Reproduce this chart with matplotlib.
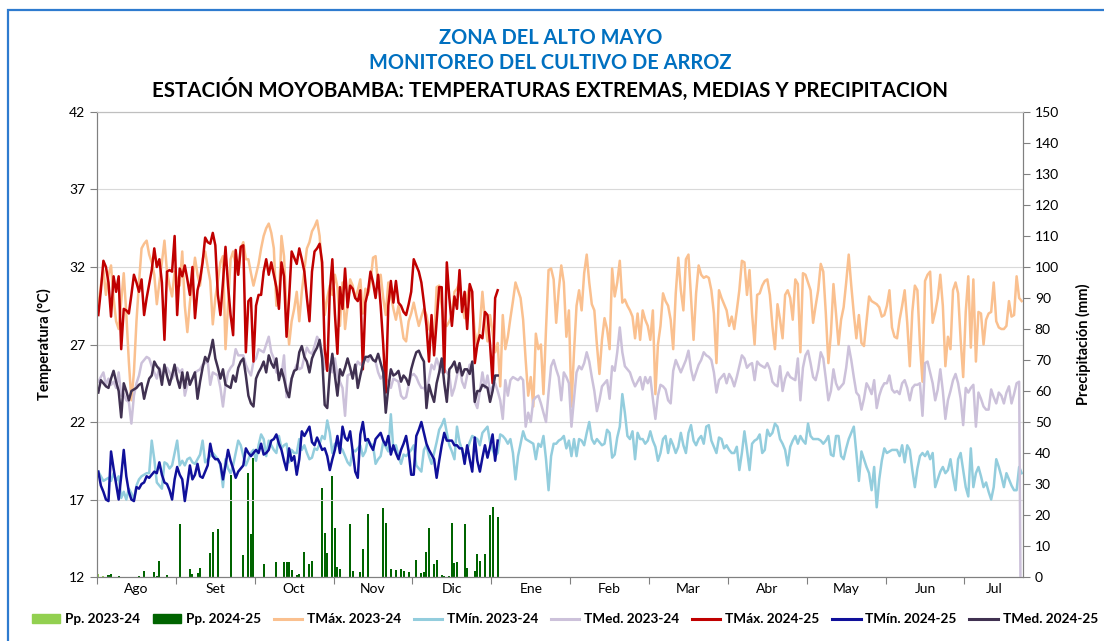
import numpy as np
import matplotlib.pyplot as plt
from matplotlib.patches import Patch, Rectangle
from matplotlib.lines import Line2D

plt.rcParams['font.family'] = ['Lato', 'DejaVu Sans']

# eje x: dias desde el 1 de agosto (campana de 364 dias)
meses = ['Ago', 'Set', 'Oct', 'Nov', 'Dic', 'Ene', 'Feb', 'Mar', 'Abr', 'May', 'Jun', 'Jul']
n_dias = 364
paso_tick = 31

# campana 2023-24 (temperaturas diarias, C)
tmax_2324 = [
    29.5, 30.8, 31.8, 30.2, 31.5, 32.1, 30.0, 28.5, 28.0, 29.8,
    31.6, 29.0, 25.9, 23.4, 25.2, 28.5, 31.0, 33.2, 33.5, 33.7,
    32.8, 32.3, 31.5, 29.6, 31.0, 32.3, 33.7, 31.7, 30.8, 30.1,
    31.7, 31.2, 30.8, 33.0, 29.5, 27.8, 29.7, 31.1, 32.6, 31.5,
    30.8, 32.5, 33.0, 32.0, 31.1, 28.3, 30.0, 31.1, 32.3, 32.7,
    26.7, 29.5, 32.5, 33.0, 32.1, 31.5, 33.2, 33.6, 32.5, 32.5,
    31.6, 30.8, 31.5, 32.2, 33.2, 34.0, 34.5, 34.8, 34.2, 33.2,
    29.5, 29.7, 34.0, 32.7, 29.1, 27.0, 28.5, 29.3, 30.4, 28.5,
    30.4, 31.8, 33.2, 33.6, 34.3, 34.6, 35.0, 34.0, 31.7, 28.9,
    30.0, 30.8, 30.2, 31.5, 30.7, 28.2, 31.0, 28.0, 29.5, 31.2,
    30.8, 30.0, 30.5, 31.2, 29.0, 30.6, 30.2, 31.0, 32.6, 32.7,
    30.8, 31.5, 30.0, 28.9, 31.0, 30.2, 29.3, 28.6, 29.5, 28.5,
    27.4, 27.2, 28.5, 29.0, 29.7, 28.9, 28.2, 28.8, 29.3, 28.9,
    28.0, 27.8, 27.2, 30.7, 30.8, 29.5, 28.2, 28.2, 28.5, 28.9,
    30.4, 30.6, 31.0, 29.5, 28.7, 30.2, 30.8, 29.7, 27.8, 26.9,
    28.2, 30.4, 28.5, 27.2, 28.9, 27.8, 26.5, 27.1, 24.3, 28.9,
    26.7, 27.5, 28.7, 29.8, 31.0, 30.5, 30.0, 28.6, 26.0, 23.7,
    24.9, 23.0, 27.7, 26.7, 27.0, 23.8, 28.0, 31.8, 31.9, 31.2,
    28.4, 30.5, 32.1, 31.0, 27.5, 29.2, 23.0, 26.5, 29.5, 30.5,
    29.2, 31.6, 32.8, 31.0, 29.6, 29.2, 27.0, 25.1, 27.3, 28.7,
    28.0, 26.7, 31.9, 30.1, 31.0, 32.4, 29.7, 29.9, 29.5, 29.2,
    28.8, 27.4, 29.0, 27.3, 29.2, 28.6, 28.2, 27.3, 29.2, 23.8,
    27.0, 28.2, 30.3, 29.8, 29.5, 28.6, 26.7, 30.3, 32.6, 30.5,
    29.2, 32.5, 32.8, 30.0, 27.3, 30.3, 32.1, 31.5, 31.3, 31.4,
    31.3, 30.5, 29.0, 25.8, 30.5, 30.0, 29.6, 29.2, 28.2, 28.8,
    28.0, 29.2, 30.5, 32.4, 32.3, 30.2, 31.8, 29.0, 27.0, 30.2,
    30.3, 30.8, 31.1, 31.2, 30.2, 28.2, 26.7, 29.6, 28.6, 27.4,
    30.2, 30.5, 30.0, 28.6, 31.2, 30.9, 26.5, 31.6, 31.5, 31.0,
    30.5, 28.4, 29.5, 30.5, 32.2, 31.7, 29.0, 25.8, 27.7, 30.9,
    29.0, 27.0, 28.6, 29.4, 31.0, 32.8, 30.8, 29.0, 27.4, 28.9,
    27.1, 26.9, 28.5, 30.1, 29.8, 29.7, 29.6, 29.4, 28.8, 28.9,
    29.5, 30.5, 28.1, 27.5, 27.4, 28.6, 29.5, 30.5, 28.4, 25.6,
    29.1, 30.8, 30.5, 27.0, 24.6, 31.1, 31.5, 31.7, 28.4, 29.1,
    30.0, 31.5, 29.5, 25.6, 27.5, 26.7, 30.5, 31.0, 30.3, 27.3,
    24.9, 29.1, 31.4, 26.8, 31.2, 25.9, 29.1, 29.0, 27.0, 28.6,
    29.0, 29.1, 31.0, 28.5, 28.1, 28.0, 28.0, 28.2, 29.8, 28.8,
    28.9, 31.4, 30.0, 29.8,
]

tmin_2324 = [
    18.8, 18.5, 18.2, 18.3, 18.4, 18.2, 18.7, 18.2, 18.5, 17.1,
    17.5, 17.0, 17.7, 17.4, 17.0, 17.9, 18.3, 18.5, 18.6, 18.7,
    18.7, 20.8, 19.6, 18.1, 17.9, 17.7, 19.4, 19.3, 19.0, 19.2,
    20.0, 20.8, 19.2, 19.5, 19.2, 19.6, 19.7, 19.4, 19.3, 19.6,
    19.9, 20.8, 19.4, 19.6, 19.8, 20.0, 19.8, 19.6, 19.2, 17.8,
    19.6, 19.0, 18.7, 19.2, 20.0, 20.8, 20.5, 19.8, 19.2, 19.6,
    20.0, 20.2, 19.5, 20.5, 21.2, 20.9, 19.8, 20.8, 20.5, 20.2,
    20.0, 21.1, 20.3, 20.5, 20.6, 19.4, 20.2, 20.0, 20.0, 20.9,
    20.2, 20.5, 20.0, 19.6, 19.7, 20.3, 20.2, 20.6, 21.1, 20.9,
    22.1, 21.3, 20.0, 20.6, 20.5, 20.4, 20.2, 19.8, 19.4, 19.2,
    20.2, 20.1, 20.3, 20.5, 19.8, 20.1, 20.9, 20.6, 20.5, 19.3,
    19.6, 19.8, 20.7, 20.4, 20.1, 22.5, 20.2, 20.5, 19.8, 19.3,
    19.9, 19.8, 20.0, 20.2, 20.5, 19.2, 19.0, 18.8, 20.2, 20.5,
    19.8, 19.3, 20.0, 20.7, 21.5, 21.8, 22.2, 21.3, 20.5, 20.1,
    19.6, 21.7, 20.7, 20.2, 19.7, 20.2, 20.7, 21.1, 21.0, 20.9,
    20.5, 21.3, 21.5, 21.7, 20.7, 20.2, 19.8, 20.0, 21.2, 21.1,
    20.9, 20.6, 20.9, 20.0, 18.3, 19.8, 20.6, 21.4, 20.9, 20.8,
    20.7, 20.6, 19.6, 20.6, 20.4, 21.1, 19.6, 17.6, 19.8, 20.6,
    20.6, 20.8, 20.9, 21.1, 20.3, 20.8, 19.8, 20.9, 19.8, 20.9,
    20.8, 20.5, 21.3, 22.0, 20.9, 20.6, 20.9, 20.7, 20.5, 20.6,
    21.5, 21.3, 19.7, 19.9, 21.0, 21.7, 23.8, 22.6, 21.1, 20.9,
    21.4, 19.6, 21.3, 20.9, 20.9, 20.6, 20.8, 21.4, 20.8, 20.4,
    19.5, 20.0, 20.9, 21.1, 20.0, 20.9, 20.5, 20.0, 20.4, 21.3,
    20.5, 20.0, 21.3, 21.8, 20.8, 20.5, 20.9, 21.1, 20.6, 21.7,
    21.8, 20.8, 20.4, 20.0, 21.0, 20.9, 20.3, 20.5, 20.2, 20.0,
    20.0, 20.4, 18.9, 20.0, 21.4, 20.2, 18.9, 20.6, 20.8, 20.9,
    21.2, 20.0, 20.2, 21.5, 21.1, 21.3, 21.9, 21.7, 20.9, 20.6,
    20.2, 19.2, 20.4, 20.8, 21.1, 20.6, 21.1, 20.8, 20.6, 21.9,
    21.1, 20.9, 20.9, 20.9, 20.8, 20.6, 20.8, 21.1, 19.9, 19.8,
    21.1, 21.1, 19.8, 19.6, 20.3, 20.9, 21.3, 21.7, 20.0, 18.2,
    20.1, 19.6, 19.1, 18.7, 17.6, 19.1, 16.5, 18.3, 19.5, 20.3,
    20.0, 20.1, 20.2, 20.2, 20.2, 19.8, 20.5, 19.4, 20.5, 20.2,
    18.9, 17.8, 19.0, 19.8, 20.0, 19.8, 20.1, 19.6, 20.0, 17.8,
    18.3, 18.8, 19.1, 18.7, 18.9, 19.6, 18.5, 17.6, 19.6, 20.0,
    18.9, 17.8, 17.2, 20.3, 17.8, 18.7, 19.1, 18.5, 17.8, 18.1,
    17.5, 17.0, 17.8, 19.6, 19.1, 18.5, 17.8, 18.7, 18.3, 17.9,
    17.6, 17.6, 19.1, 18.7,
]

tmed_2324 = [
    24.6, 24.9, 25.2, 24.4, 24.8, 24.4, 24.6, 24.2, 25.2, 23.7,
    23.8, 23.4, 23.3, 21.9, 23.7, 24.5, 25.0, 25.8, 26.0, 26.2,
    26.1, 25.6, 25.2, 24.8, 25.5, 25.0, 25.3, 25.5, 25.2, 24.8,
    25.1, 25.5, 25.2, 25.4, 23.7, 24.4, 24.6, 24.8, 25.2, 25.3,
    25.4, 25.7, 25.8, 25.9, 24.4, 25.2, 25.1, 25.0, 24.2, 23.0,
    24.4, 25.2, 25.5, 25.7, 26.7, 26.3, 26.3, 26.3, 25.7, 25.3,
    25.0, 25.9, 26.1, 26.7, 26.6, 26.5, 27.0, 27.5, 26.5, 26.1,
    25.2, 25.1, 25.0, 26.3, 23.6, 24.2, 24.8, 25.3, 25.7, 25.4,
    25.5, 26.2, 26.8, 26.5, 26.4, 26.9, 27.5, 27.2, 26.5, 25.4,
    25.9, 25.5, 25.2, 26.1, 25.0, 24.6, 24.2, 22.4, 25.0, 25.1,
    25.2, 25.4, 25.9, 25.7, 25.9, 26.1, 25.9, 26.3, 26.0, 25.9,
    25.2, 24.8, 25.0, 24.8, 24.6, 24.2, 24.8, 24.7, 24.6, 23.7,
    23.5, 23.6, 24.4, 25.0, 25.1, 24.9, 24.5, 24.2, 24.2, 23.9,
    24.8, 25.7, 25.4, 26.1, 25.6, 25.2, 25.4, 25.2, 25.0, 23.7,
    24.2, 25.0, 25.7, 24.6, 24.2, 25.0, 25.7, 25.2, 23.3, 22.9,
    24.0, 25.2, 24.2, 25.0, 23.9, 24.3, 24.5, 24.0, 23.4, 22.2,
    24.7, 23.7, 24.7, 24.9, 24.8, 24.7, 24.9, 24.7, 21.7, 22.6,
    22.0, 23.4, 23.6, 23.7, 23.2, 22.6, 22.0, 23.9, 25.6, 26.0,
    25.4, 24.9, 23.4, 25.2, 24.9, 24.5, 21.7, 23.5, 25.2, 25.6,
    25.4, 25.8, 26.5, 25.9, 24.9, 24.0, 22.7, 23.4, 24.3, 24.5,
    24.7, 23.5, 25.6, 25.3, 26.5, 28.1, 26.5, 25.6, 25.4, 25.2,
    24.7, 24.3, 24.6, 24.9, 24.1, 24.9, 24.5, 24.9, 23.5, 22.2,
    23.7, 24.4, 24.3, 24.1, 23.4, 23.2, 25.3, 26.0, 25.6, 25.2,
    25.6, 26.0, 26.6, 25.4, 24.7, 25.2, 25.7, 26.0, 26.5, 26.3,
    26.2, 26.0, 25.2, 23.9, 24.7, 24.9, 25.1, 24.5, 25.1, 24.8,
    24.3, 24.9, 25.6, 26.3, 26.1, 25.5, 25.7, 25.8, 24.7, 25.9,
    25.7, 25.6, 25.5, 25.8, 25.4, 24.6, 24.4, 24.3, 25.6, 24.0,
    24.8, 25.2, 24.9, 24.8, 24.7, 26.1, 23.4, 25.5, 26.3, 26.6,
    25.8, 24.9, 24.7, 25.4, 26.5, 26.1, 24.8, 23.4, 24.0, 25.4,
    24.5, 24.1, 24.3, 24.5, 25.5, 26.9, 26.0, 24.9, 23.9, 23.7,
    22.8, 23.5, 24.5, 24.2, 23.8, 24.7, 22.9, 23.7, 24.2, 24.5,
    24.5, 25.0, 24.1, 23.9, 24.0, 23.8, 24.5, 24.7, 24.2, 23.4,
    24.2, 24.4, 24.4, 24.5, 22.4, 25.8, 25.9, 25.2, 24.5, 23.4,
    24.1, 25.4, 24.0, 22.2, 23.4, 24.0, 24.7, 25.1, 24.5, 23.5,
    21.8, 24.2, 23.9, 24.2, 24.4, 21.7, 23.9, 23.5, 23.0, 22.8,
    22.8, 24.1, 23.6, 23.2, 23.9, 23.7, 23.2, 23.9, 24.3, 23.2,
    23.8, 24.5, 24.6, 0.0,
]

# precipitacion 2023-24: solo dias con registro (dia, mm)
pp_2324_dia = [0, 2]
pp_2324_mm = [1.0, 0.4]

# campana 2024-25 (hasta inicios de enero)
tmax_2425 = [
    28.9, 30.5, 32.4, 32.0, 31.0, 28.8, 31.4, 30.4, 31.4, 26.7,
    29.3, 29.2, 29.0, 30.2, 31.5, 31.0, 30.4, 31.2, 28.9, 30.0,
    30.9, 31.8, 33.2, 32.0, 32.5, 31.0, 27.3, 31.7, 31.8, 31.7,
    34.0, 28.9, 31.9, 31.4, 32.1, 31.2, 30.2, 32.0, 28.7, 30.5,
    31.2, 32.3, 33.9, 33.6, 33.5, 34.2, 33.4, 30.2, 28.9, 31.0,
    33.3, 30.8, 28.9, 27.6, 33.1, 31.5, 33.3, 33.4, 26.5, 29.8,
    30.0, 25.9, 29.5, 30.2, 30.2, 31.7, 32.5, 31.5, 32.3, 31.5,
    30.7, 29.3, 32.3, 31.4, 27.5, 30.0, 33.0, 32.6, 32.2, 33.2,
    32.5, 31.7, 30.0, 28.5, 31.7, 33.0, 33.2, 33.5, 32.3, 26.7,
    25.3, 30.4, 32.5, 29.0, 26.4, 30.7, 29.3, 31.9, 29.4, 30.8,
    30.6, 30.0, 29.8, 30.5, 25.4, 29.7, 30.4, 31.7, 31.0, 30.0,
    31.5, 29.5, 27.0, 23.9, 29.5, 31.1, 29.7, 31.1, 29.7, 29.5,
    29.1, 28.9, 29.6, 30.4, 32.5, 32.1, 31.7, 31.0, 29.7, 28.2,
    25.9, 28.9, 26.3, 28.5, 30.7, 30.7, 25.2, 32.3, 30.0, 28.2,
    30.1, 29.3, 31.8, 29.1, 30.4, 28.0, 30.9, 30.4, 25.8, 27.0,
    27.6, 27.4, 29.1, 28.9, 27.0, 24.5, 30.0, 30.5,
]

tmin_2425 = [
    18.8, 17.9, 17.5, 17.0, 16.9, 20.1, 19.0, 18.0, 17.0, 18.5,
    20.2, 18.5, 17.5, 17.0, 16.9, 17.8, 17.7, 18.0, 18.1, 18.5,
    18.4, 18.6, 18.8, 18.7, 19.4, 18.6, 18.1, 18.0, 17.6, 17.0,
    18.3, 19.1, 18.6, 18.3, 16.9, 18.0, 19.2, 18.3, 18.6, 19.3,
    18.5, 18.4, 18.8, 19.2, 20.6, 19.8, 19.6, 19.6, 19.3, 18.3,
    19.2, 20.2, 19.5, 19.0, 18.4, 18.8, 19.0, 19.2, 20.3, 20.0,
    19.8, 20.0, 20.2, 20.0, 20.6, 19.9, 20.0, 20.2, 20.8, 20.9,
    21.2, 20.6, 20.2, 19.5, 18.9, 20.3, 19.5, 19.8, 18.6, 19.6,
    21.4, 21.1, 21.4, 21.7, 20.7, 20.5, 21.0, 20.6, 20.2, 20.3,
    19.8, 18.9, 19.6, 20.2, 21.1, 20.0, 21.7, 21.0, 20.8, 21.4,
    20.1, 18.8, 18.4, 21.2, 22.0, 20.8, 20.9, 20.5, 20.2, 20.9,
    21.1, 21.3, 20.8, 20.5, 21.1, 19.9, 20.5, 20.0, 19.6, 20.2,
    20.6, 21.1, 20.1, 18.6, 18.6, 21.1, 21.5, 22.0, 21.3, 20.6,
    20.2, 19.9, 19.6, 18.4, 19.5, 20.5, 21.3, 20.8, 20.8, 20.8,
    20.5, 20.5, 20.3, 20.3, 19.3, 20.5, 19.6, 18.8, 21.0, 19.5,
    18.8, 19.7, 20.5, 19.7, 20.4, 21.2, 19.5, 20.8,
]

tmed_2425 = [
    23.9, 24.7, 24.5, 24.3, 24.2, 24.8, 25.3, 24.6, 24.0, 22.3,
    24.5, 24.0, 23.4, 24.0, 24.1, 24.2, 24.4, 24.5, 23.5, 24.2,
    24.8, 25.0, 25.9, 25.6, 25.4, 24.4, 25.7, 25.0, 24.4, 25.0,
    25.7, 24.8, 24.2, 25.2, 24.2, 25.2, 24.4, 24.8, 25.2, 23.5,
    24.6, 25.5, 26.2, 25.9, 26.5, 27.3, 26.1, 25.5, 24.8, 25.4,
    24.4, 24.3, 24.2, 25.0, 24.6, 25.5, 25.9, 26.1, 25.0, 23.7,
    23.2, 23.0, 24.8, 25.2, 25.5, 25.9, 25.2, 26.3, 25.8, 25.5,
    26.1, 24.7, 25.4, 24.8, 24.0, 23.6, 24.8, 25.3, 25.4, 26.5,
    26.9, 26.2, 25.9, 25.2, 26.1, 26.5, 26.8, 27.3, 26.1, 23.1,
    22.9, 25.2, 26.4, 25.0, 23.7, 25.4, 25.0, 25.5, 26.1, 25.5,
    24.8, 25.7, 24.2, 25.0, 25.7, 26.2, 26.2, 26.3, 26.0, 25.9,
    26.4, 25.8, 25.2, 22.6, 24.2, 25.4, 25.0, 25.1, 25.3, 24.6,
    25.0, 24.8, 24.4, 25.4, 26.0, 26.5, 26.6, 26.2, 25.9, 22.9,
    24.4, 23.8, 23.3, 24.5, 25.2, 26.1, 24.5, 23.3, 25.4, 25.6,
    25.9, 25.2, 25.8, 25.0, 25.4, 25.4, 25.1, 25.9, 23.3, 24.0,
    24.0, 24.4, 24.3, 24.2, 23.3, 24.0, 25.0, 25.0,
]

pp_2425 = [
    0, 0, 0, 0, 0.8, 1.0, 0, 0, 0.4, 0,
    0, 0, 0, 0, 0, 0, 0.4, 0, 2.0, 0,
    0, 0, 1.7, 0.4, 5.2, 0, 0, 0.6, 0, 0,
    0, 0, 17.0, 0, 0, 0, 2.5, 0.9, 0, 1.2,
    2.8, 0, 0, 0, 7.8, 14.6, 0, 15.4, 0, 0,
    0, 0, 33.0, 0, 0, 0, 0, 7.1, 0, 33.7,
    14.0, 38.3, 0, 0, 0, 4.1, 0, 0, 0, 0,
    4.8, 0, 0, 4.7, 4.9, 4.9, 2.3, 0, 0.6, 0.9,
    0, 8.2, 0, 4.1, 5.2, 0, 0, 0, 28.6, 14.1,
    7.6, 0, 32.6, 15.7, 3.3, 2.5, 0, 0, 0, 17.0,
    2.0, 0, 0, 1.7, 9.2, 0, 20.2, 0, 0, 0,
    0, 0, 22.2, 17.3, 0, 2.5, 0, 2.3, 0, 2.5,
    2.0, 0, 1.7, 0, 0, 5.5, 0, 1.4, 1.7, 8.2,
    15.7, 0, 4.2, 5.5, 0, 0.6, 0.3, 0, 0.3, 17.3,
    4.4, 4.9, 0, 0, 17.0, 2.8, 0, 0, 1.9, 7.4,
    5.2, 0, 7.4, 0, 20.0, 22.7, 0, 19.4,
]

series_lineas = [
    ('TMáx. 2023-24', tmax_2324, '#FAC08F'),
    ('TMín. 2023-24', tmin_2324, '#93CDDD'),
    ('TMed. 2023-24', tmed_2324, '#CCC1DA'),
    ('TMáx. 2024-25', tmax_2425, '#C00000'),
    ('TMín. 2024-25', tmin_2425, '#10109A'),
    ('TMed. 2024-25', tmed_2425, '#403151'),
]

fig = plt.figure(figsize=(11.04, 6.41), dpi=100)
ax = fig.add_axes([0.0879, 0.0998, 0.8387, 0.7255])
ax2 = ax.twinx()

# precipitacion en el eje secundario, detras de las lineas
ax2.bar(np.array(pp_2324_dia) + 0.5, pp_2324_mm, width=0.8, color='#92D050')
ax2.bar(np.arange(len(pp_2425)) + 0.5, pp_2425, width=0.8, color='#006400')
ax.set_zorder(ax2.get_zorder() + 1)
ax.patch.set_visible(False)

handles = [Patch(color='#92D050'), Patch(color='#006400')]
labels = ['Pp. 2023-24', 'Pp. 2024-25']
for nombre, valores, color in series_lineas:
    x = np.arange(len(valores)) + 0.5
    ax.plot(x, valores, color=color, lw=1.8, solid_joinstyle='round')
    handles.append(Line2D([], [], color=color, lw=2.2))
    labels.append(nombre)

ax.set_xlim(0, n_dias)
ax.set_ylim(12, 42)
ax.set_yticks(range(12, 43, 5))
ax2.set_ylim(0, 150)
ax2.set_yticks(range(0, 151, 10))

bordes = list(range(0, n_dias, paso_tick))
centros = [b + paso_tick / 2 for b in bordes[:-1]] + [(bordes[-1] + n_dias) / 2]
ax.set_xticks(bordes)
ax.set_xticklabels([])
ax.set_xticks(centros, minor=True)
ax.set_xticklabels(meses, minor=True)
ax.tick_params(axis='x', which='major', length=5, color='#808080')
ax.tick_params(axis='x', which='minor', length=0, labelsize=10, pad=4)
ax.tick_params(axis='y', length=5, color='#808080', labelsize=10)
ax2.tick_params(axis='y', length=5, color='#808080', labelsize=10)

ax.grid(axis='y', color='#D9D9D9', lw=0.8)
ax.set_axisbelow(True)
for a in (ax, ax2):
    for lado in ('left', 'right', 'bottom'):
        a.spines[lado].set_color('#808080')
    a.spines['top'].set_color('#BFBFBF')

ax.set_ylabel('Temperatura (°C)', fontsize=10.5, fontweight='bold', labelpad=12)
ax2.set_ylabel('Precipitación (mm)', fontsize=10.5, fontweight='bold', labelpad=12)

fig.text(0.4985, 0.941, 'ZONA DEL ALTO MAYO', ha='center', va='center',
         fontsize=14.4, fontweight='bold', color='#0070C0')
fig.text(0.4985, 0.902, 'MONITOREO DEL CULTIVO DE ARROZ', ha='center', va='center',
         fontsize=14.4, fontweight='bold', color='#0070C0')
fig.text(0.4985, 0.861, 'ESTACIÓN MOYOBAMBA: TEMPERATURAS EXTREMAS, MEDIAS Y PRECIPITACION',
         ha='center', va='center', fontsize=14.8, fontweight='bold', color='black')

fig.legend(handles, labels, loc='center left', bbox_to_anchor=(0.019, 0.034), ncol=8,
           frameon=False, prop={'weight': 'bold', 'size': 9.8}, handlelength=2.1,
           handleheight=0.6, handletextpad=0.35, columnspacing=0.92, borderpad=0.3)

# marco azul del grafico
fig.patches.append(Rectangle((0.0072, -0.1), 1.2, 1.084, transform=fig.transFigure,
                             fill=False, edgecolor='#2E7BCF', lw=1.6))

plt.savefig('out.png', dpi=100)
